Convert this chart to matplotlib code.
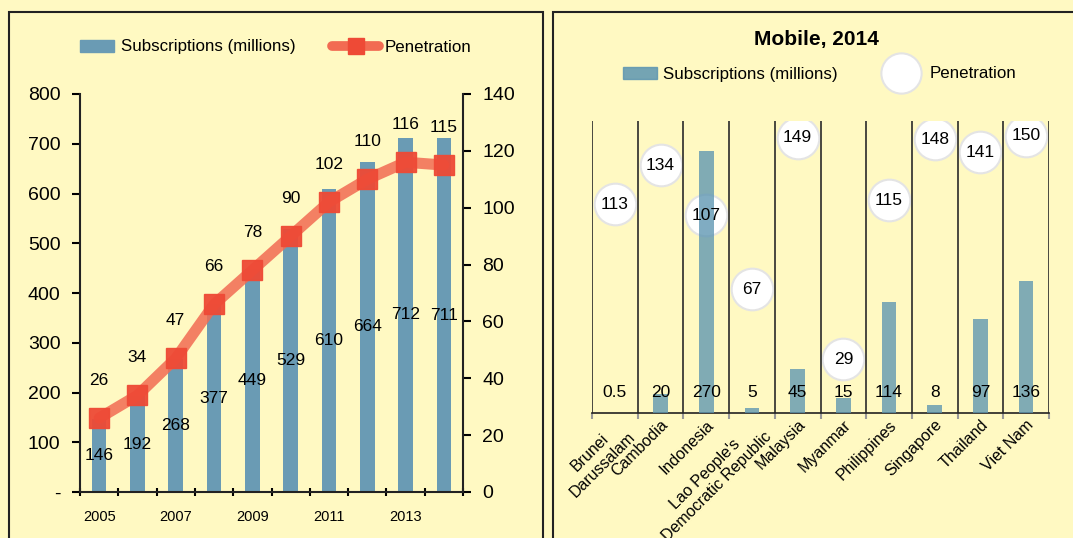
import matplotlib.pyplot as plt
import matplotlib.patches as mpatches
from matplotlib.lines import Line2D
import numpy as np

plt.rcParams['font.family'] = ['Liberation Sans', 'DejaVu Sans']

# left panel: regional trend
years = [2005, 2006, 2007, 2008, 2009, 2010, 2011, 2012, 2013, 2014]
subs_trend = [146, 192, 268, 377, 449, 529, 610, 664, 712, 711]
pen_trend = [26, 34, 47, 66, 78, 90, 102, 110, 116, 115]

# right panel: mobile 2014 by country
countries = ["Brunei\nDarussalam", "Cambodia", "Indonesia",
             "Lao People's\nDemocratic Republic", "Malaysia", "Myanmar",
             "Philippines", "Singapore", "Thailand", "Viet Nam"]
subs_2014 = [0.5, 20, 270, 5, 45, 15, 114, 8, 97, 136]
subs_labels = ["0.5", "20", "270", "5", "45", "15", "114", "8", "97", "136"]
pen_2014 = [113, 134, 107, 67, 149, 29, 115, 148, 141, 150]

BG = "#fff9c2"
BAR_L = "#6a9bb4"
BAR_R = "#5c95b1"
LINE = "#f26b52"
MARK = "#ee4a36"
FS_LEG = 12.2

fig = plt.figure(figsize=(10.73, 5.38), dpi=100)
fig.patch.set_facecolor(BG)
W, H = 1073, 538

# panel frames
for x0, x1 in [(9, 543), (553, 1085)]:
    fig.patches.append(mpatches.Rectangle((x0 / W, -0.05), (x1 - x0) / W, 1.05 - 12 / H,
                                          transform=fig.transFigure, fill=False,
                                          edgecolor="#222222", lw=1.5))


def one_legend(handle, label, x_px, y_px, hlen, tpad):
    fig.legend([handle], [label], loc="center left",
               bbox_to_anchor=(x_px / W, 1 - y_px / H), frameon=False,
               fontsize=FS_LEG, handlelength=hlen, handletextpad=tpad,
               borderpad=0, borderaxespad=0)


# ---------- left chart ----------
ax = fig.add_axes([80 / W, 1 - 492 / H, (463 - 80) / W, (492 - 94) / H])
ax.set_facecolor("none")
x = np.arange(len(years))
ax.bar(x, subs_trend, width=0.38, color=BAR_L, zorder=2)
for xi, v in zip(x, subs_trend):
    ax.text(xi, v / 2, str(v), ha="center", va="center", fontsize=12.5, zorder=5)
ax.set_xlim(-0.5, len(years) - 0.5)
ax.set_ylim(0, 800)
ax.set_yticks(range(0, 801, 100))
ax.set_yticklabels(["-"] + [str(v) for v in range(100, 801, 100)], fontsize=14)
ax.set_xticks(x[::2])
ax.set_xticklabels([str(y) for y in years[::2]], fontsize=10.5)
ax.set_xticks(np.arange(-0.5, len(years)), minor=True)
ax.tick_params(axis="x", which="major", length=0, pad=13)
ax.tick_params(axis="x", which="minor", length=6, width=1.5, direction="inout")
ax.tick_params(axis="y", length=6, width=1.5, pad=8)
for s in ["top", "right"]:
    ax.spines[s].set_visible(False)
for s in ["left", "bottom"]:
    ax.spines[s].set_linewidth(1.5)
    ax.spines[s].set_color("#222222")

ax2 = ax.twinx()
ax2.set_ylim(0, 140)
ax2.set_yticks(range(0, 141, 20))
ax2.tick_params(axis="y", length=6, width=1.5, labelsize=14, pad=8)
for s in ["top", "left", "bottom"]:
    ax2.spines[s].set_visible(False)
ax2.spines["right"].set_linewidth(1.5)
ax2.spines["right"].set_color("#222222")
ax2.plot(x, pen_trend, color=LINE, lw=8, alpha=0.85, solid_capstyle="round", zorder=3)
ax2.plot(x, pen_trend, ls="none", marker="s", ms=15, color=MARK, alpha=0.95, zorder=4)
for xi, v in zip(x, pen_trend):
    ax2.annotate(str(v), (xi, v), xytext=(0, 27), textcoords="offset points",
                 ha="center", va="center", fontsize=12.5)

h1 = mpatches.Patch(color=BAR_L)
h2 = Line2D([], [], color=LINE, lw=7, marker="s", ms=11, markerfacecolor=MARK,
            markeredgecolor=MARK, solid_capstyle="round")
one_legend(h1, "Subscriptions (millions)", 80, 47, 2.0, 0.4)
one_legend(h2, "Penetration", 332, 47, 2.8, 0.3)

# ---------- right chart ----------
axr = fig.add_axes([592 / W, 1 - 413 / H, (1049 - 592) / W, (413 - 121) / H])
axr2 = axr.twinx()
axr2.set_zorder(1)
axr.set_zorder(2)
axr.patch.set_visible(False)
axr2.patch.set_visible(False)

xr = np.arange(len(countries))
axr2.set_ylim(0, 158)
axr2.scatter(xr, pen_2014, s=900, color="white", edgecolors="#e4e4e4", lw=1.5, zorder=2)
axr2.axis("off")

axr.bar(xr, subs_2014, width=0.32, color=BAR_R, alpha=0.78, zorder=3)
for xi, lab in zip(xr, subs_labels):
    axr.text(xi, 21, lab, ha="center", va="center", fontsize=12.5, zorder=5)
for xi, v in zip(xr, pen_2014):
    axr.text(xi, v, str(v), transform=axr2.transData, ha="center", va="center",
             fontsize=12.5, zorder=6)
for b in np.arange(-0.5, len(countries)):
    axr.axvline(b, color="#2a2a2a", lw=1.2, zorder=1)
axr.set_xlim(-0.5, len(countries) - 0.5)
axr.set_ylim(0, 301)
axr.set_yticks([])
for s in ["top", "left", "right"]:
    axr.spines[s].set_visible(False)
axr.spines["bottom"].set_linewidth(1.2)
axr.spines["bottom"].set_color("#222222")
axr.set_xticks(xr)
axr.set_xticklabels(countries, rotation=45, ha="right", va="top",
                    rotation_mode="anchor", fontsize=11.5, multialignment="center")
axr.tick_params(axis="x", which="major", length=0, pad=3)
axr.set_xticks(np.arange(-0.5, len(countries)), minor=True)
axr.tick_params(axis="x", which="minor", length=4, width=1.5, color="#999999")

fig.text(816 / W, 1 - 40 / H, "Mobile, 2014", ha="center", va="center",
         fontsize=15, fontweight="bold")
hr1 = mpatches.Patch(color=BAR_R, alpha=0.85)
hr2 = Line2D([], [], ls="none", marker="o", ms=29, markerfacecolor="white",
             markeredgecolor="#e4e4e4", markeredgewidth=1.5)
one_legend(hr1, "Subscriptions (millions)", 623, 74, 2.0, 0.35)
one_legend(hr2, "Penetration", 884, 74, 2.0, 0.7)

fig.savefig("out.png", dpi=100, facecolor=BG)
